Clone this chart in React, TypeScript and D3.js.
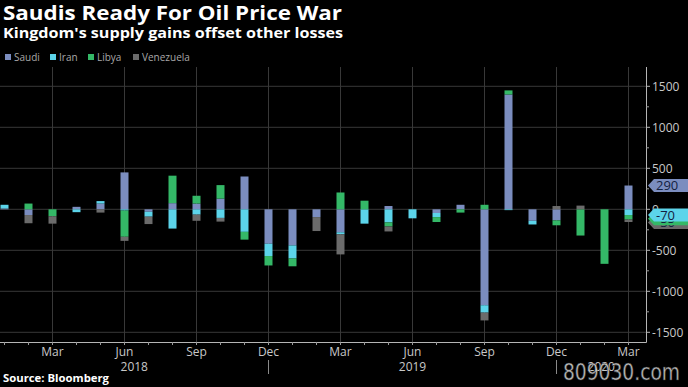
import React from 'react'
import * as d3 from 'd3'

// monthly change in crude output, thousand b/d
const months = [
  '2018-01', '2018-02', '2018-03', '2018-04', '2018-05', '2018-06', '2018-07', '2018-08', '2018-09',
  '2018-10', '2018-11', '2018-12', '2019-01', '2019-02', '2019-03', '2019-04', '2019-05', '2019-06',
  '2019-07', '2019-08', '2019-09', '2019-10', '2019-11', '2019-12', '2020-01', '2020-02', '2020-03',
]
const saudi = [10, -70, 0, 30, 70, 450, -30, 75, 70, 130, 400, -420, -440, -95, -280, 0, 40, 0, -45, 55, -1170, 1400, -140, -135, 0, 0, 290]
const iran = [45, 0, 0, -35, 30, -15, -60, -235, -65, -105, -275, -150, -160, 0, -25, -175, -160, -110, -50, 0, -90, -10, -45, 0, 0, 0, -70]
const libya = [0, 70, -85, 0, 0, -320, 0, 335, 95, 165, -95, -115, -95, 0, 205, 105, -50, 0, -60, -40, 55, 50, 0, -60, -320, -665, -55]
const venezuela = [0, -100, -90, 0, -40, -50, -90, 0, -75, -45, 0, 0, 0, -170, -245, 0, -60, 0, 0, 0, -95, 0, 0, 40, 45, 0, -30]

const seriesNames = ['Saudi', 'Iran', 'Libya', 'Venezuela']
const seriesValues = [saudi, iran, libya, venezuela]
const colors = ['#7b8dbf', '#5cd4ea', '#34b867', '#6b6b6b']
const yTicks = [1500, 1000, 500, 0, -500, -1000, -1500]
const years = ['2018', '2019', '2020']

const W = 688
const H = 387
const plotTop = 67
const plotBottom = 342
const plotRight = 646

const App = () => {
  const x = d3
    .scaleBand()
    .domain(months)
    .range([-7.5, 640.5])
    .paddingInner(2 / 3)
    .paddingOuter(1 / 3)
  const y = d3.scaleLinear().domain([-1500, 1500]).range([332.3, 86.3])
  const cx = (m: string) => (x(m) as number) + x.bandwidth() / 2

  const rows = months.map((m, i) => {
    const r: any = { month: m }
    seriesNames.forEach((s, k) => (r[s] = seriesValues[k][i]))
    return r
  })
  const stacked = d3
    .stack<any>()
    .keys(seriesNames)
    .offset(d3.stackOffsetDiverging)(rows)

  const fmtMonth = d3.timeFormat('%b')
  const parse = d3.timeParse('%Y-%m')
  const minor = d3.range(-1250, 1500, 500)

  // year separators sit under the Dec ticks
  const decs = months.filter((m) => m.endsWith('-12')).map(cx)
  const bounds = [0, ...decs, plotRight]

  // last-value tags on the right, in series order, nudged down so they stack
  const last = months.length - 1
  const tags: { i: number; v: number; ty: number }[] = []
  let prev = -Infinity
  seriesValues.forEach((vals, i) => {
    const v = vals[last]
    const ty = Math.max(y(v), prev + 3.7)
    prev = ty
    tags.push({ i, v, ty })
  })

  const legendX = [5, 50, 88, 133]

  return (
    <svg
      width={W}
      height={H}
      style={{ position: 'absolute', left: 0, top: 0, background: '#000' }}
      fontFamily="'Open Sans', sans-serif"
    >
      <rect width={W} height={H} fill="#000" />
      <text x={3} y={19.5} fill="#fff" fontSize={19} fontWeight={700} textLength={339} lengthAdjust="spacingAndGlyphs">
        Saudis Ready For Oil Price War
      </text>
      <text x={3} y={38} fill="#fff" fontSize={13.5} fontWeight={700} textLength={340} lengthAdjust="spacingAndGlyphs">
        Kingdom's supply gains offset other losses
      </text>

      {seriesNames.map((s, k) => (
        <g key={s}>
          <rect x={legendX[k]} y={54} width={6} height={6} fill={colors[k]} />
          <text x={legendX[k] + 9} y={61} fill="#a8a8a8" fontSize={10}>
            {s}
          </text>
        </g>
      ))}

      {/* grid */}
      {yTicks.map((t) => (
        <line key={t} x1={0} x2={plotRight} y1={y(t)} y2={y(t)} stroke="#383838" strokeWidth={1} />
      ))}
      {months
        .filter((_, i) => i % 3 === 2)
        .map((m) => (
          <line key={m} x1={cx(m)} x2={cx(m)} y1={plotTop} y2={plotBottom} stroke="#383838" strokeWidth={1} />
        ))}

      {/* bars */}
      {stacked.map((layer, k) => (
        <g key={layer.key} fill={colors[k]}>
          {layer.map((d, i) =>
            d[1] - d[0] === 0 ? null : (
              <rect
                key={i}
                x={x(d.data.month)}
                y={y(Math.max(d[0], d[1]))}
                width={x.bandwidth()}
                height={Math.abs(y(d[0]) - y(d[1]))}
              />
            )
          )}
        </g>
      ))}

      {/* axes */}
      <line x1={0} x2={plotRight + 0.5} y1={plotBottom + 0.5} y2={plotBottom + 0.5} stroke="#b5b5b5" />
      <line x1={plotRight + 0.5} x2={plotRight + 0.5} y1={plotTop} y2={plotBottom + 0.5} stroke="#b5b5b5" />
      {months.map((m) => (
        <line key={m} x1={cx(m)} x2={cx(m)} y1={plotBottom} y2={plotBottom + 3} stroke="#9a9a9a" />
      ))}
      {months
        .filter((_, i) => i % 3 === 2)
        .map((m) => (
          <text key={m} x={cx(m)} y={356} fill="#c8c8c8" fontSize={12} textAnchor="middle">
            {fmtMonth(parse(m) as Date)}
          </text>
        ))}
      {decs.map((d) => (
        <line key={d} x1={d} x2={d} y1={360} y2={374} stroke="#8a8a8a" />
      ))}
      {years.map((yr, i) => (
        <text key={yr} x={(bounds[i] + bounds[i + 1]) / 2} y={370.5} fill="#c8c8c8" fontSize={12} textAnchor="middle">
          {yr}
        </text>
      ))}

      {minor.map((t) => (
        <line key={t} x1={plotRight} x2={plotRight + 3} y1={y(t)} y2={y(t)} stroke="#9a9a9a" />
      ))}
      {yTicks.map((t) => (
        <g key={t}>
          <line x1={plotRight} x2={plotRight + 4} y1={y(t)} y2={y(t)} stroke="#b5b5b5" />
          <text x={652} y={y(t) + 4.2} fill="#c8c8c8" fontSize={12}>
            {t}
          </text>
        </g>
      ))}

      {/* value tags, drawn last-series first so Saudi/Iran sit on top */}
      {[...tags].reverse().map((t) => (
        <g key={t.i}>
          <path
            d={`M648,${t.ty} L654,${t.ty - 6.5} L688,${t.ty - 6.5} L688,${t.ty + 6.5} L654,${t.ty + 6.5} Z`}
            fill={colors[t.i]}
          />
          <text x={656} y={t.ty + 4.5} fill="#13213f" fontSize={13}>
            {t.v}
          </text>
        </g>
      ))}

      <text x={3} y={382} fill="#fff" fontSize={10} fontWeight={700} textLength={106} lengthAdjust="spacingAndGlyphs">
        Source: Bloomberg
      </text>
      <text
        x={563}
        y={380}
        fill="#e6e6e6"
        fillOpacity={0.85}
        stroke="#333"
        strokeWidth={0.6}
        fontSize={23}
        fontFamily="'DejaVu Sans', sans-serif"
        textLength={117}
        lengthAdjust="spacingAndGlyphs"
      >
        809030.com
      </text>
    </svg>
  )
}

export default App
